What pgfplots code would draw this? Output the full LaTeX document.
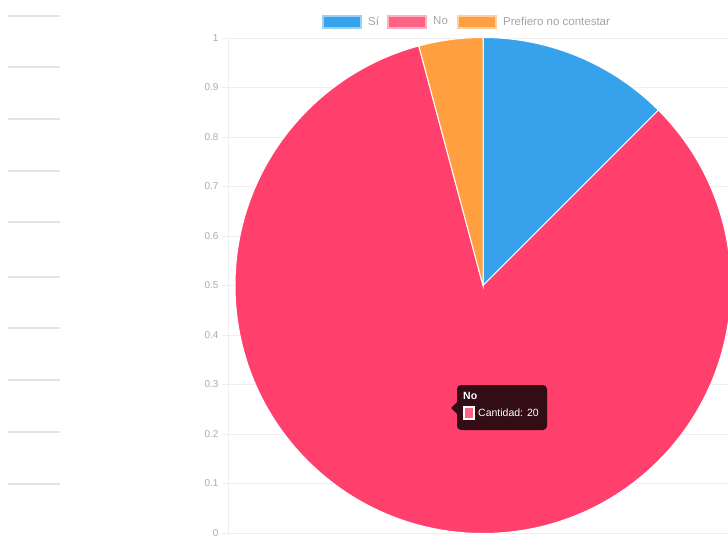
\documentclass[border=0pt]{standalone}
\usepackage{pgfplots}
\pgfplotsset{compat=1.18}
\usepackage{pgfplotstable}
\usepackage{fontspec}
\setmainfont{Liberation Sans}

\definecolor{cSi}{HTML}{36A2EB}
\definecolor{cNo}{HTML}{FF3F6C}
\definecolor{cNoL}{HTML}{FF6384}
\definecolor{cPr}{HTML}{FF9F40}
\definecolor{txt}{HTML}{666666}
\definecolor{grd}{HTML}{EFEFEF}
\definecolor{side}{HTML}{E3E3E9}
\definecolor{tip}{HTML}{330D16}

% answers (counts)
\pgfplotstableread{
label count
Si 3
No 20
Prefiero 1
}\respuestas

\begin{document}%
\pgfplotstablegetelem{0}{count}\of\respuestas \let\nSi\pgfplotsretval%
\pgfplotstablegetelem{1}{count}\of\respuestas \let\nNo\pgfplotsretval%
\pgfplotstablegetelem{2}{count}\of\respuestas \let\nPr\pgfplotsretval%
\pgfmathsetmacro{\tot}{\nSi+\nNo+\nPr}%
\pgfmathsetmacro{\aA}{90-360*\nSi/\tot}%
\pgfmathsetmacro{\aB}{\aA-360*\nNo/\tot}%
\pgfmathsetmacro{\aC}{\aB-360*\nPr/\tot}%
\begin{tikzpicture}[x=1pt,y=1pt]
\useasboundingbox (0,0) rectangle (728,-537);

% faint placeholder lines on the left
\foreach \yy in {15.7,67.3,119,170.7,222.3,276.7,328.3,380.3,432.3,484}
  \draw[side, line width=2pt] (8,-\yy) -- (60,-\yy);

\begin{axis}[
    at={(228pt,-533pt)}, anchor=south west,
    scale only axis, width=500pt, height=495pt,
    xmin=0, xmax=500, ymin=0, ymax=1,
    hide x axis,
    axis y line*=left,
    axis line style={grd, -},
    ytick={0,0.1,0.2,0.3,0.4,0.5,0.6,0.7,0.8,0.9,1},
    yticklabel style={font=\fontsize{10}{11}\selectfont, text=txt!55},
    /pgf/number format/assume math mode=true,
    ymajorgrids, grid style={grd},
    tick align=outside, major tick length=6pt,
    tick style={grd},
]
\fill[cSi, draw=white, line width=1pt] (axis cs:255,0.5) -- ++(90:248pt)
  arc[start angle=90, end angle=\aA, radius=248pt] -- cycle;
\fill[cNo, draw=white, line width=1pt] (axis cs:255,0.5) -- ++(\aA:248pt)
  arc[start angle=\aA, end angle=\aB, radius=248pt] -- cycle;
\fill[cPr, draw=white, line width=1pt] (axis cs:255,0.5) -- ++(\aB:248pt)
  arc[start angle=\aB, end angle=\aC, radius=248pt] -- cycle;
\end{axis}

% legend
\tikzset{lg/.style={anchor=west, text=txt!60, font=\fontsize{11.5}{12}\selectfont, inner sep=0pt}}
\fill[cSi!50!white] (322,-15) rectangle (362,-29);
\fill[cSi] (324,-17) rectangle (360,-27);
\node[lg] at (368,-21) {Sí};
\fill[cNoL!50!white] (387,-15) rectangle (427,-29);
\fill[cNoL] (389,-17) rectangle (425,-27);
\node[lg] at (433,-21) {No};
\fill[cPr!50!white] (457,-15) rectangle (497,-29);
\fill[cPr] (459,-17) rectangle (495,-27);
\node[lg] at (503,-21) {Prefiero no contestar};

% tooltip
\fill[tip, rounded corners=4pt] (457,-385) rectangle (547,-430);
\fill[tip] (457,-402) -- (451,-408) -- (457,-414) -- cycle;
\node[anchor=west, text=white, inner sep=0pt, font=\bfseries\fontsize{10.5}{11}\selectfont] at (463,-396) {No};
\fill[white] (463,-406) rectangle (475,-420);
\fill[cNoL] (465,-408) rectangle (473,-418);
\node[anchor=west, text=white, inner sep=0pt, font=\fontsize{10.5}{11}\selectfont] at (478,-413) {Cantidad: 20};
\end{tikzpicture}
\end{document}
